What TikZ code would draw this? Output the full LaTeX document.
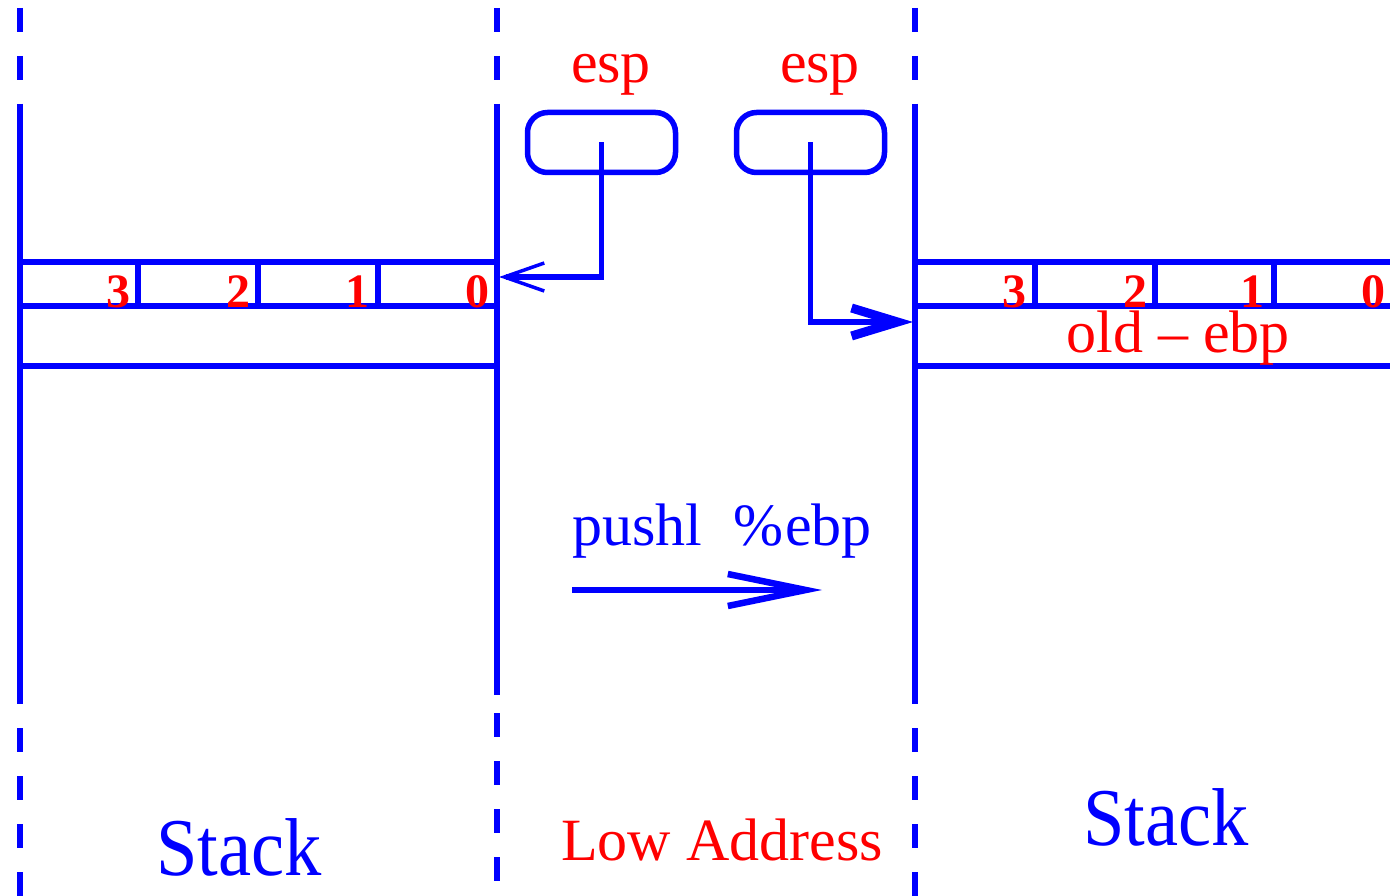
\documentclass[tikz,border=0pt]{standalone}
\usepackage{fontspec}
\setmainfont{Liberation Serif}
\usetikzlibrary{arrows.meta}
\definecolor{sb}{RGB}{0,0,255}
\definecolor{sr}{RGB}{255,0,0}
\begin{document}
\begin{tikzpicture}[x=1pt,y=-1pt,
  wall/.style={draw=sb, line width=5.5pt},
  dashwall/.style={wall, dash pattern=on 24pt off 24pt},
  digit/.style={text=sr, font=\fontsize{48}{50}\selectfont\bfseries, anchor=base east, inner sep=0pt},
  redlbl/.style={text=sr, font=\fontsize{60}{70}\selectfont, inner sep=0pt},
  bluelbl/.style={text=sb, font=\fontsize{60}{70}\selectfont, inner sep=0pt},
  stacklbl/.style={text=sb, font=\fontsize{76}{80}\selectfont, inner sep=0pt, anchor=base, yscale=1.08, xscale=0.98},
  ptrbox/.style={draw=sb, line width=5.5pt, rounded corners=20pt, minimum width=148pt, minimum height=60pt, inner sep=0pt},
  ptr/.style={draw=sb, line width=5.5pt}
]
\useasboundingbox (0,0) rectangle (1390,896);

% vertical walls
\draw[dashwall] (20,8) -- (20,896);
\draw[wall] (20,104) -- (20,690);
\draw[dashwall] (497,8) -- (497,104);
\draw[wall] (497,104) -- (497,695);
\draw[dashwall] (497,713) -- (497,881);
\draw[dashwall] (915,8) -- (915,896);
\draw[wall] (915,104) -- (915,690);

% left stack cells
\draw[wall] (20,262) -- (497,262);
\draw[wall] (20,306) -- (497,306);
\draw[wall] (20,366) -- (497,366);
\foreach \x in {138,258,378} \draw[wall] (\x,262) -- (\x,306);
\node[digit] (l3) at (131,307) {3};
\node[digit] (l2) at (251,307) {2};
\node[digit] (l1) at (370,307) {1};
\node[digit] (l0) at (490,307) {0};

% right stack cells
\draw[wall] (915,262) -- (1395,262);
\draw[wall] (915,306) -- (1395,306);
\draw[wall] (915,366) -- (1395,366);
\foreach \x in {1035,1155,1274} \draw[wall] (\x,262) -- (\x,306);
\node[digit] (r3) at (1027,307) {3};
\node[digit] (r2) at (1148,307) {2};
\node[digit] (r1) at (1265,307) {1};
\node[digit] (r0) at (1386,307) {0};
\node[redlbl, anchor=base] (oldebp) at (1178,352) {old \textendash{} ebp};

% esp pointers
\node[redlbl, anchor=base] (lesp) at (611,83) {esp};
\node[redlbl, anchor=base] (resp) at (820,83) {esp};
\node[ptrbox] (lbox) at (601.5,142.5) {};
\node[ptrbox] (rbox) at (810.5,142.5) {};
\coordinate (ltip) at (499,277);
\coordinate (rtip) at (913,322);
\draw[ptr, -{Straight Barb[length=40pt,width=28pt,line width=3.5pt 0 0]}] (lbox.center) |- (ltip);
\draw[ptr, -{Straight Barb[length=46pt,width=28pt,line width=9pt 0 0]}] (rbox.center) |- (rtip);

% pushl arrow
\node[bluelbl, anchor=base west] (push) at (572,545) {pushl\hspace{31pt}\%\hspace{2pt}ebp};
\coordinate (pa) at (572,590);
\coordinate (pb) at (822,590);
\draw[ptr, line width=6pt, -{Straight Barb[length=78pt,width=32pt,line width=6.5pt 0 0]}] (pa) -- (pb);

% bottom labels
\node[stacklbl] (lstack) at (239,875) {Stack};
\node[stacklbl] (rstack) at (1166,845) {Stack};
\node[redlbl, anchor=base west] (low) at (561,860) {Low Address};
\end{tikzpicture}
\end{document}
